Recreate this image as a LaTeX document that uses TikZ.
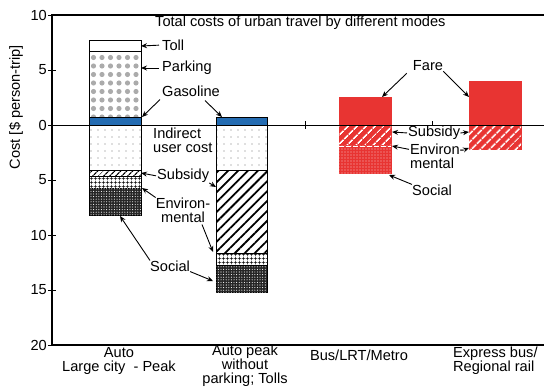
\documentclass[tikz,border=0pt]{standalone}
\usepackage{fontspec}
\setmainfont{Liberation Sans}
\usepackage{xcolor}
\usetikzlibrary{arrows.meta,patterns.meta,calc}

\definecolor{farered}{RGB}{232,52,50}
\definecolor{gasblue}{RGB}{36,108,178}

\begin{document}
\begin{tikzpicture}[
    x=1pt, y=-1pt,
    font=\fontsize{14.6}{13.8}\selectfont,
    lbl/.style={inner sep=0pt, anchor=west},
    arr/.style={-{Stealth[length=6pt,width=5pt]}, line width=0.9pt},
    bar/.style={draw, line width=1pt},
    tollbox/.style={bar, fill=white},
    parkbox/.style={bar, pattern={Dots[distance=8.5pt,radius=2.6pt]}, pattern color=black!33},
    gasbox/.style={bar, fill=gasblue},
    indirectbox/.style={bar, pattern={Dots[distance=7pt,radius=0.7pt]}, pattern color=black!55},
    subsidybox/.style={bar, pattern={Lines[angle=45,distance=7pt,line width=1.8pt]}},
    environbox/.style={bar, pattern={Hatch[distance=4pt,line width=0.55pt]}},
    socialbox/.style={bar, fill=black!85, postaction={pattern={Dots[distance=2.6pt,radius=0.55pt]}, pattern color=white}},
    farebox/.style={fill=farered, draw=farered},
    redsubsidy/.style={fill=farered, draw=farered, postaction={pattern={Lines[angle=45,distance=6.5pt,line width=1.8pt]}, pattern color=white}},
    redsocial/.style={fill=farered, draw=farered, postaction={pattern={Dots[distance=3pt,radius=0.6pt]}, pattern color=white!70!farered}}
]
    \useasboundingbox (0,0) rectangle (544,389);

    % Auto, large city, peak
    \draw[tollbox] (89,40) rectangle (141,51);
    \draw[parkbox] (89,51) rectangle (141,117);
    \draw[gasbox] (89,117) rectangle (141,125);
    \draw[indirectbox] (89,125) rectangle (141,170);
    \draw[subsidybox, pattern={Lines[angle=45,distance=4pt,line width=1.3pt]}] (89,170) rectangle (141,176);
    \draw[environbox] (89,176) rectangle (141,188);
    \draw[socialbox] (89,188) rectangle (141,215);

    % Auto peak without parking
    \draw[gasbox] (216,117) rectangle (267,125);
    \draw[indirectbox] (216,125) rectangle (267,170);
    \draw[subsidybox] (216,170) rectangle (267,253);
    \draw[environbox] (216,253) rectangle (267,265);
    \draw[socialbox] (216,265) rectangle (267,292);

    % Bus/LRT/Metro
    \draw[farebox] (339,97) rectangle (391,125);
    \draw[redsubsidy] (339,125) rectangle (391,145);
    \draw[redsocial] (339,145) rectangle (391,173);
    \draw[white, line width=1pt, dash pattern=on 5pt off 2pt] (339,146) -- (391,146);

    % Express bus/Regional rail
    \draw[farebox] (469,81) rectangle (521,125);
    \draw[redsubsidy] (469,125) rectangle (521,149);

    % axes
    \draw[line width=1.2pt] (544,15) -- (52,15) -- (52,345) -- (544,345);
    \draw[line width=1pt] (52,125) -- (544,125);
    \draw[line width=1pt] (305,121) -- (305,129);
    \draw[line width=0.6pt] (432,121) -- (432,125);
    \foreach \v/\t [count=\i] in {10/10,5/5,0/0,-5/5,-10/10,-15/15,-20/20}{
        \draw[line width=1pt] (48,{125-11*\v}) -- (56,{125-11*\v});
        \node[inner sep=0pt, anchor=east] (ytick\i) at (47,{125-11*\v}) {\t};
    }
    \node[rotate=90, inner sep=0pt] (ylabel) at (16,107) {Cost [\$ person-trip]};

    \node[lbl] (title) at (155,23) {Total costs of urban travel by different modes};

    % labels
    \node[lbl] (toll) at (162,45) {Toll};
    \node[lbl] (parking) at (162,68) {Parking};
    \node[lbl] (gasoline) at (162,91) {Gasoline};
    \node[lbl, align=left] (indirect) at (153,140) {Indirect\\user cost};
    \node[lbl] (subsidyA) at (157,176) {Subsidy};
    \node[inner sep=0pt, align=center] (environA) at (183,210) {Environ-\\mental};
    \node[lbl] (socialA) at (150,266) {Social};
    \node[inner sep=0pt] (fare) at (428,66) {Fare};
    \node[lbl] (subsidyC) at (408,133) {Subsidy};
    \node[lbl, align=left] (environC) at (410,156) {Environ-\\mental};
    \node[lbl] (socialC) at (412,190) {Social};

    % bar ends
    \coordinate (tollP) at (141,46);
    \coordinate (parkP) at (141,68);
    \coordinate (gasA) at (142,117);
    \coordinate (gasB) at (222,117);
    \coordinate (subA) at (141,173);
    \coordinate (subB) at (216,187);
    \coordinate (envA) at (142,188);
    \coordinate (envB) at (213,252);
    \coordinate (socA) at (120,216);
    \coordinate (socB) at (213,281);
    \coordinate (fareC) at (382,97);
    \coordinate (fareD) at (469,97);
    \coordinate (subC) at (392,132);
    \coordinate (subD) at (469,132);
    \coordinate (envC) at (392,146);
    \coordinate (envD) at (469,148);
    \coordinate (socC) at (389,175);

    \draw[arr, shorten <=3pt] (toll.west) -- (tollP);
    \draw[arr, shorten <=3pt] (parking.west) -- (parkP);
    \draw[arr] ($(gasoline.south west)+(-2,3)$) -- (gasA);
    \draw[arr] ($(gasoline.south)+(14,4)$) -- (gasB);
    \draw[arr, shorten <=1pt] (subsidyA.west) -- (subA);
    \draw[arr] (subsidyA.south east) -- (subB);
    \draw[arr] (environA.north west) -- (envA);
    \draw[arr] ($(environA.south)+(19,2)$) -- (envB);
    \draw[arr] (socialA.north west) -- (socA);
    \draw[arr] (socialA.south east) -- (socB);
    \draw[arr] ($(fare.south west)+(-6,2)$) -- (fareC);
    \draw[arr] (fare.south east) -- (fareD);
    \draw[arr, shorten <=1pt] (subsidyC.west) -- (subC);
    \draw[arr] (subsidyC.east) -- (subD);
    \draw[arr, shorten <=1pt] ($(environC.north west)+(0,6)$) -- (envC);
    \draw[arr] ($(environC.north east)+(0,6)$) -- (envD);
    \draw[arr] (socialC.north west) -- (socC);

    % categories
    \node[inner sep=0pt, align=center] (auto) at (119,361) {Auto\\Large city\ \ - Peak};
    \node[inner sep=0pt, align=center] (autopeak) at (245,366) {Auto peak\\without\\parking; Tolls};
    \node[inner sep=0pt] (bus) at (359,355) {Bus/LRT/Metro};
    \node[lbl, align=left] (express) at (453,361) {Express bus/\\Regional rail};
\end{tikzpicture}
\end{document}
